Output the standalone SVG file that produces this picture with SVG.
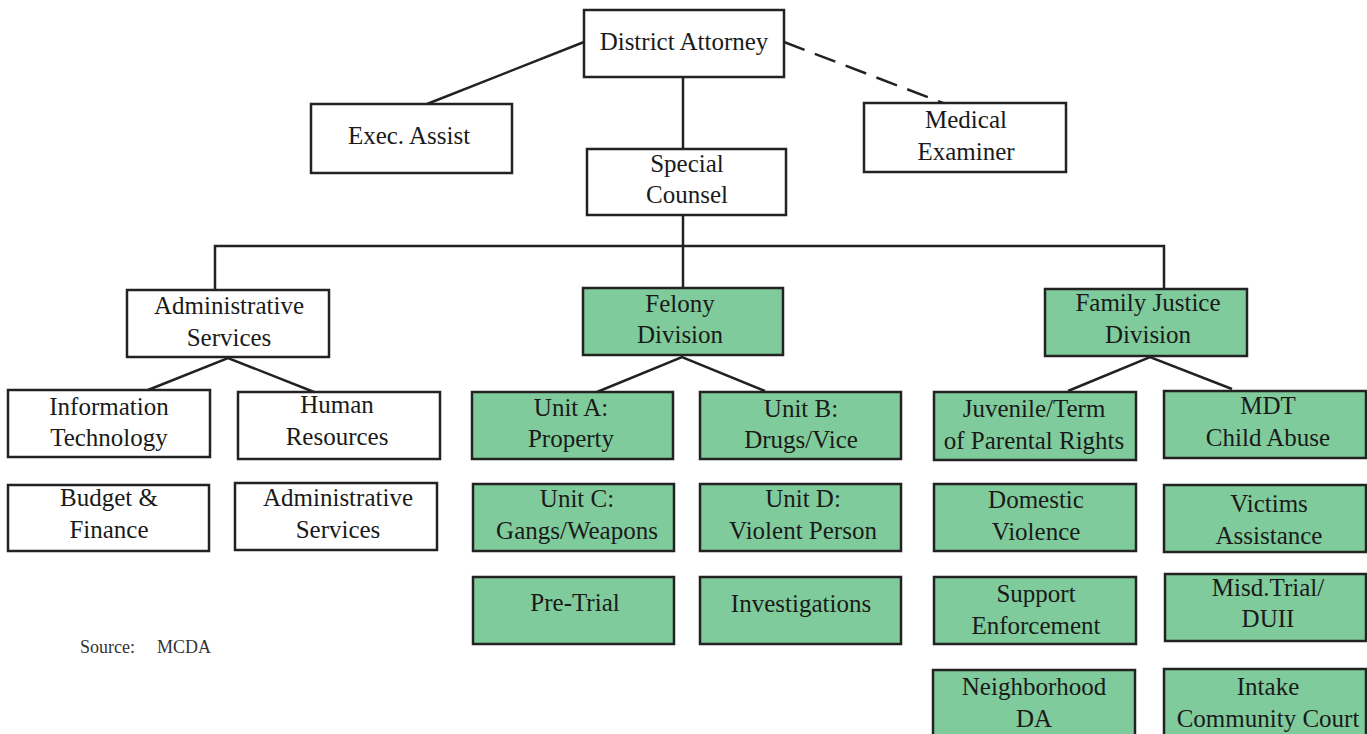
<svg xmlns="http://www.w3.org/2000/svg" width="1367" height="734" viewBox="0 0 1367 734" font-family="'Liberation Serif', 'Times New Roman', Tinos, 'DejaVu Serif', serif">
<style>
.b{fill:#fff;stroke:#222;stroke-width:2.5}
.g{fill:#80cb9b;stroke:#222;stroke-width:2.5}
text{font-family:'Liberation Serif','Times New Roman',Tinos,'DejaVu Serif',serif;font-size:25px;fill:#1a1a1a;text-anchor:middle}
.c line,.c polyline{stroke:#222;stroke-width:2.5;fill:none}
text.src{font-size:18px;fill:#333;text-anchor:start}
</style>
<rect width="1367" height="734" fill="#fff"/>
<g class="c" id="connectors">
<line x1="584" y1="42" x2="427" y2="104"/>
<line x1="784" y1="42" x2="943" y2="103" stroke-dasharray="22,11"/>
<line x1="683" y1="77" x2="683" y2="149"/>
<line x1="683" y1="215" x2="683" y2="288"/>
<polyline points="215,290 215,246 1164,246 1164,289"/>
<polyline points="148,390 228,358 314,392"/>
<polyline points="597,392 682,357 765,391"/>
<polyline points="1068,391 1150,357 1232,389"/>
</g>
<g id="da"><rect class="b" x="584" y="10" width="200" height="67"/><text x="684" y="50">District Attorney</text></g>
<g id="exec"><rect class="b" x="311" y="104" width="201" height="69"/><text x="409" y="144">Exec. Assist</text></g>
<g id="me"><rect class="b" x="864" y="103" width="202" height="69"/><text x="966" y="128">Medical</text><text x="966" y="160">Examiner</text></g>
<g id="sc"><rect class="b" x="587" y="149" width="199" height="66"/><text x="687" y="172">Special</text><text x="687" y="203">Counsel</text></g>
<g id="admin"><rect class="b" x="127" y="290" width="202" height="67"/><text x="229" y="314">Administrative</text><text x="229" y="346">Services</text></g>
<g id="felony"><rect class="g" x="583" y="288" width="200" height="67"/><text x="680" y="312">Felony</text><text x="680" y="343">Division</text></g>
<g id="family"><rect class="g" x="1045" y="289" width="202" height="67"/><text x="1148" y="311">Family Justice</text><text x="1148" y="343">Division</text></g>
<g id="it"><rect class="b" x="8" y="390" width="202" height="67"/><text x="109" y="415">Information</text><text x="109" y="446">Technology</text></g>
<g id="hr"><rect class="b" x="238" y="392" width="202" height="67"/><text x="337" y="413">Human</text><text x="337" y="445">Resources</text></g>
<g id="budget"><rect class="b" x="8" y="485" width="201" height="66"/><text x="109" y="506">Budget &amp;</text><text x="109" y="538">Finance</text></g>
<g id="admin2"><rect class="b" x="235" y="483" width="202" height="67"/><text x="338" y="506">Administrative</text><text x="338" y="538">Services</text></g>
<g id="ua"><rect class="g" x="472" y="392" width="201" height="67"/><text x="571" y="416">Unit A:</text><text x="571" y="447">Property</text></g>
<g id="ub"><rect class="g" x="700" y="392" width="201" height="67"/><text x="801" y="417">Unit B:</text><text x="801" y="448">Drugs/Vice</text></g>
<g id="uc"><rect class="g" x="473" y="484" width="201" height="67"/><text x="577" y="507">Unit C:</text><text x="577" y="539">Gangs/Weapons</text></g>
<g id="ud"><rect class="g" x="700" y="484" width="201" height="67"/><text x="803" y="507">Unit D:</text><text x="803" y="539">Violent Person</text></g>
<g id="pt"><rect class="g" x="473" y="577" width="201" height="67"/><text x="575" y="611">Pre-Trial</text></g>
<g id="inv"><rect class="g" x="700" y="577" width="201" height="67"/><text x="801" y="612">Investigations</text></g>
<g id="juv"><rect class="g" x="934" y="392" width="202" height="68"/><text x="1034" y="417">Juvenile/Term</text><text x="1034" y="449">of Parental Rights</text></g>
<g id="mdt"><rect class="g" x="1164" y="391" width="202" height="67"/><text x="1268" y="414">MDT</text><text x="1268" y="446">Child Abuse</text></g>
<g id="dv"><rect class="g" x="934" y="484" width="202" height="67"/><text x="1036" y="508">Domestic</text><text x="1036" y="540">Violence</text></g>
<g id="va"><rect class="g" x="1164" y="485" width="202" height="67"/><text x="1269" y="512">Victims</text><text x="1269" y="544">Assistance</text></g>
<g id="se"><rect class="g" x="934" y="577" width="202" height="67"/><text x="1036" y="602">Support</text><text x="1036" y="634">Enforcement</text></g>
<g id="misd"><rect class="g" x="1165" y="574" width="201" height="67"/><text x="1268" y="596">Misd.Trial/</text><text x="1268" y="627">DUII</text></g>
<g id="nda"><rect class="g" x="933" y="670" width="202" height="70"/><text x="1034" y="695">Neighborhood</text><text x="1034" y="727">DA</text></g>
<g id="intake"><rect class="g" x="1164" y="669" width="202" height="71"/><text x="1268" y="695">Intake</text><text x="1268" y="727">Community Court</text></g>
<g id="source"><text class="src" x="80" y="653">Source:</text><text class="src" x="157" y="653">MCDA</text></g>
</svg>
